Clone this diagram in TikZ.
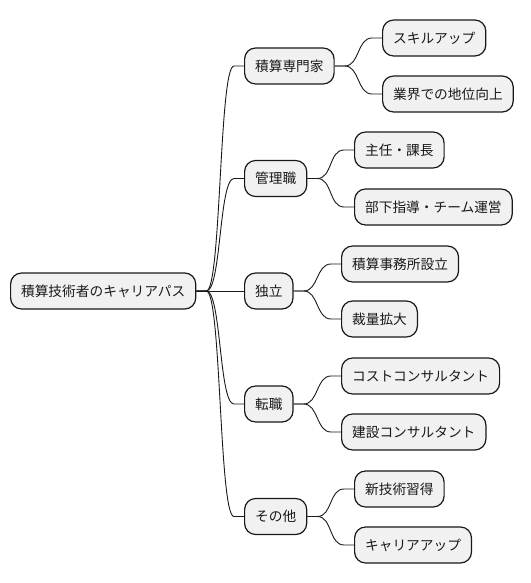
\documentclass[tikz,border=0pt]{standalone}
\usepackage{fontspec}
\setmainfont{Noto Sans CJK JP}
\usetikzlibrary{calc}
\tikzset{
  mm/.style={draw=black!90, fill=black!5.5, line width=1.2pt, rounded corners=11pt,
    minimum height=36pt, inner xsep=10.5pt, inner ysep=0pt, anchor=west,
    font=\fontsize{13.7}{16}\selectfont, text=black!90},
  conn/.style={draw=black!90, line width=0.9pt},
}
\newcommand\mmconn[2]{\draw[conn] (#1.east) -- ++(10pt,0) to[out=0,in=180,distance=15pt] ($(#2.west)+(-10pt,0)$) -- (#2.west);}
\begin{document}
\begin{tikzpicture}[x=1pt,y=-1pt]
\useasboundingbox (0,0) rectangle (530,583);
\node[mm] (root) at (10,291) {積算技術者のキャリアパス};
\node[mm] (c1) at (244,66) {積算専門家};
\node[mm] (c2) at (244,178.5) {管理職};
\node[mm] (c3) at (244,291) {独立};
\node[mm] (c4) at (244,404) {転職};
\node[mm] (c5) at (244,516.5) {その他};
\node[mm] (g11) at (382,38) {スキルアップ};
\node[mm] (g12) at (382,94) {業界での地位向上};
\node[mm] (g21) at (354,150) {主任・課長};
\node[mm] (g22) at (354,207) {部下指導・チーム運営};
\node[mm] (g31) at (341,264) {積算事務所設立};
\node[mm] (g32) at (341,319) {裁量拡大};
\node[mm] (g41) at (341,376) {コストコンサルタント};
\node[mm] (g42) at (341,432) {建設コンサルタント};
\node[mm] (g51) at (354,489) {新技術習得};
\node[mm] (g52) at (354,545) {キャリアアップ};
\mmconn{root}{c1}
\mmconn{root}{c2}
\draw[conn] (root.east) -- (c3.west);
\mmconn{root}{c4}
\mmconn{root}{c5}
\mmconn{c1}{g11}
\mmconn{c1}{g12}
\mmconn{c2}{g21}
\mmconn{c2}{g22}
\mmconn{c3}{g31}
\mmconn{c3}{g32}
\mmconn{c4}{g41}
\mmconn{c4}{g42}
\mmconn{c5}{g51}
\mmconn{c5}{g52}
\end{tikzpicture}
\end{document}
